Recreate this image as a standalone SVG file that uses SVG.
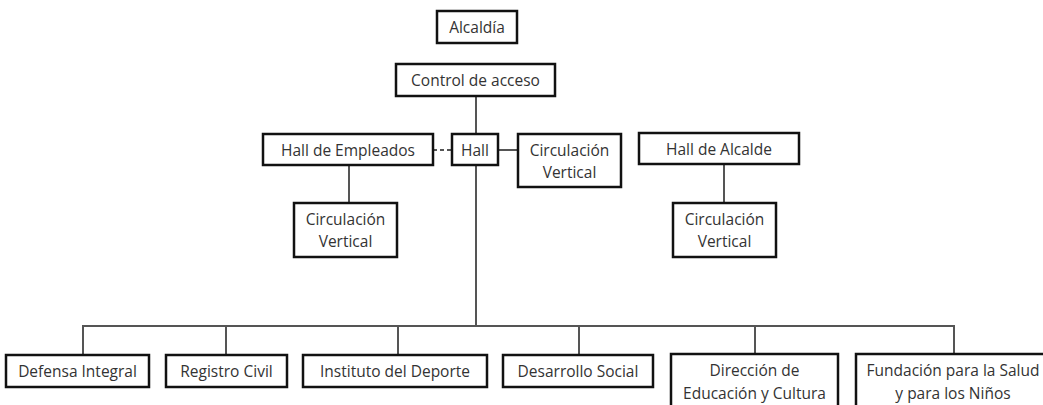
<svg xmlns="http://www.w3.org/2000/svg" width="1043" height="405" viewBox="0 0 1043 405">
<style>
.box{fill:#fff;stroke:#111;stroke-width:2.5}
.ln{stroke:#555;stroke-width:2;fill:none}
.dash{stroke:#555;stroke-width:2;stroke-dasharray:4 3;fill:none}
text{font-family:"Open Sans","Liberation Sans",sans-serif;font-size:15.5px;fill:#333;text-anchor:middle;dominant-baseline:central}
</style>
<rect width="1043" height="405" fill="#fff"/>
<g id="connectors">
<line class="ln" x1="476" y1="96" x2="476" y2="134"/>
<line class="dash" x1="433" y1="150" x2="452" y2="150"/>
<line class="ln" x1="498" y1="150" x2="518" y2="150"/>
<line class="ln" x1="349" y1="165" x2="349" y2="203"/>
<line class="ln" x1="724" y1="164" x2="724" y2="203"/>
<line class="ln" x1="476" y1="165" x2="476" y2="326"/>
<polyline class="ln" points="83,355 83,326 954,326 954,355"/>
<line class="ln" x1="226" y1="326" x2="226" y2="355"/>
<line class="ln" x1="398" y1="326" x2="398" y2="355"/>
<line class="ln" x1="579" y1="326" x2="579" y2="355"/>
<line class="ln" x1="755" y1="326" x2="755" y2="354"/>
</g>
<g id="alcaldia"><rect class="box" x="437" y="11" width="80" height="32"/><text x="477" y="27">Alcaldía</text></g>
<g id="control"><rect class="box" x="396" y="64" width="159" height="32"/><text x="475.5" y="80">Control de acceso</text></g>
<g id="hall-empleados"><rect class="box" x="263" y="134" width="170" height="31"/><text x="348" y="150">Hall de Empleados</text></g>
<g id="hall"><rect class="box" x="452" y="134" width="46" height="31"/><text x="475" y="150">Hall</text></g>
<g id="circ-hall"><rect class="box" x="518" y="134" width="103" height="53"/><text x="569.5" y="150">Circulación</text><text x="569.5" y="172">Vertical</text></g>
<g id="hall-alcalde"><rect class="box" x="639" y="133" width="160" height="31"/><text x="719" y="149">Hall de Alcalde</text></g>
<g id="circ-empleados"><rect class="box" x="294" y="203" width="103" height="54"/><text x="345.5" y="219">Circulación</text><text x="345.5" y="241">Vertical</text></g>
<g id="circ-alcalde"><rect class="box" x="673" y="203" width="103" height="54"/><text x="724.5" y="219">Circulación</text><text x="724.5" y="241">Vertical</text></g>
<g id="defensa"><rect class="box" x="6" y="355" width="143" height="32"/><text x="77.5" y="371">Defensa Integral</text></g>
<g id="registro"><rect class="box" x="166" y="355" width="121" height="32"/><text x="226.5" y="371">Registro Civil</text></g>
<g id="instituto"><rect class="box" x="303" y="355" width="184" height="32"/><text x="395" y="371">Instituto del Deporte</text></g>
<g id="desarrollo"><rect class="box" x="503" y="355" width="150" height="32"/><text x="578" y="371">Desarrollo Social</text></g>
<g id="direccion"><rect class="box" x="671" y="354" width="167" height="60"/><text x="754.5" y="370">Dirección de</text><text x="754.5" y="393">Educación y Cultura</text></g>
<g id="fundacion"><rect class="box" x="856" y="354" width="200" height="60"/><text x="953" y="370">Fundación para la Salud</text><text x="953" y="393">y para los Niños</text></g>
</svg>
